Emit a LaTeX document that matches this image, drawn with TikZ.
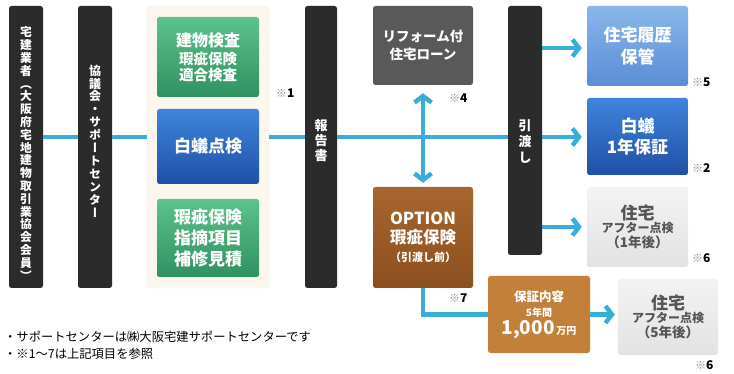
\documentclass[tikz,border=0pt]{standalone}
\usepackage{fontspec}
\setmainfont{Noto Sans CJK JP}
\newfontfamily\jpv{Noto Sans CJK JP}[RawFeature=+vert]
\usetikzlibrary{arrows.meta}
\definecolor{barc}{HTML}{2B2B2B}
\definecolor{linec}{HTML}{38ADD8}
\definecolor{panelc}{HTML}{FBF7EE}
\definecolor{panelb}{HTML}{EFE6D6}
\definecolor{gtop}{HTML}{5EC28C}
\definecolor{gbot}{HTML}{2E9160}
\definecolor{btop}{HTML}{3F85DC}
\definecolor{bbot}{HTML}{1F50A6}
\definecolor{lbtop}{HTML}{8AB6EA}
\definecolor{lbbot}{HTML}{5A8DD6}
\definecolor{dgrey}{HTML}{595959}
\definecolor{brtop}{HTML}{A8662F}
\definecolor{brbot}{HTML}{8C4F1F}
\definecolor{orc}{HTML}{C2803A}
\definecolor{lgtop}{HTML}{F3F3F3}
\definecolor{lgbot}{HTML}{E2E2E2}
\definecolor{lgtext}{HTML}{555555}
\definecolor{notec}{HTML}{8A8A8A}
\newcommand{\fs}[1]{\fontsize{#1}{#1}\selectfont}
\newcommand{\refmark}[1]{{\color{notec}\fs{11}※}{\fs{12}\bfseries #1}}
\tikzset{
  bar/.style={fill=barc, rounded corners=2.5pt, inner sep=0pt, text=white, font=\bfseries},
  vtxt/.style={text=white, align=center, inner sep=0pt},
  box/.style={rounded corners=2.5pt, inner sep=0pt, text=white, align=center, font=\bfseries},
  conn/.style={draw=linec, line width=4.5pt},
  arr/.style={draw=linec, line width=4.5pt, -{Straight Barb[length=6.5pt,width=17pt]}},
  darr/.style={draw=linec, line width=4.5pt, {Straight Barb[length=6.5pt,width=17pt]}-{Straight Barb[length=6.5pt,width=17pt]}},
  note/.style={inner sep=0pt, anchor=west}
}
\begin{document}
\begin{tikzpicture}[x=1pt,y=-1pt]
\useasboundingbox (0,0) rectangle (734,374);
% bars
\node[bar, minimum width=34pt, minimum height=282pt] (b1) at (26,147) {};
\node[vtxt, font={\jpv\bfseries\fontsize{11.8}{12.8}\selectfont}] (t1) at (26,153.5) {宅\\建\\業\\者\\（\\大\\阪\\府\\宅\\地\\建\\物\\取\\引\\業\\協\\会\\会\\員\\）};
\node[bar, minimum width=34pt, minimum height=282pt] (b2) at (95,147) {};
\node[vtxt, font={\jpv\bfseries\fontsize{12}{12.9}\selectfont}] (t2) at (95,141) {協\\議\\会\\・\\サ\\ポ\\ー\\ト\\セ\\ン\\タ\\ー};
% panel
\node[fill=panelc, draw=panelb, rounded corners=3pt, minimum width=122pt, minimum height=282pt, inner sep=0pt] (pan) at (208,147) {};
\node[box, top color=gtop, bottom color=gbot, minimum width=102pt, minimum height=80pt] (g1) at (208,57) {\fs{16}建物検査\\[3pt]\fs{14.5}瑕疵保険\\[1pt]\fs{14.5}適合検査};
\node[box, top color=btop, bottom color=bbot, minimum width=102pt, minimum height=75pt] (bl) at (208,146.5) {\fs{17}白蟻点検};
\node[box, top color=gtop, bottom color=gbot, minimum width=102pt, minimum height=78pt] (g2) at (208,238) {\fs{17}瑕疵保険\\[4pt]\fs{17}指摘項目\\[4pt]\fs{17}補修見積};
\node[note] (n1) at (276,93) {\refmark{1}};
% report bar
\node[bar, minimum width=32pt, minimum height=282pt] (b3) at (321,147) {};
\node[vtxt, font={\bfseries\fontsize{13}{15}\selectfont}] (t3) at (321,140.5) {報\\告\\書};
% handover bar
\node[bar, minimum width=34pt, minimum height=249pt] (hw) at (525,130.5) {};
\node[vtxt, font={\bfseries\fontsize{13}{15.6}\selectfont}] (t4) at (525,141.5) {引\\渡\\し};
% middle boxes
\node[box, fill=dgrey, minimum width=100pt, minimum height=79pt] (rf) at (423,45.5) {\fs{13.5}リフォーム付\\[4pt]\fs{13.5}住宅ローン};
\node[note] (n4) at (449,98) {\refmark{4}};
\node[box, top color=brtop, bottom color=brbot, minimum width=100pt, minimum height=101pt] (op) at (423,237.5) {\fs{16.5}OPTION\\[4pt]\fs{16.5}瑕疵保険\\[6pt]\fs{11}（引渡し前）};
\node[note] (n7) at (449,298) {\refmark{7}};
\node[box, fill=orc, minimum width=102pt, minimum height=77pt] (hs) at (539,314.5) {\fs{12.5}保証内容\\[3pt]\fs{10}5年間\\[2pt]{\fs{19}1,000}\,\fs{10}万円};
% right boxes
\node[box, top color=lbtop, bottom color=lbbot, minimum width=101pt, minimum height=80pt] (rk) at (637.5,46) {\fs{17}住宅履歴\\[4pt]\fs{17}保管};
\node[note] (n5) at (692,82) {\refmark{5}};
\node[box, top color=btop, bottom color=bbot, minimum width=101pt, minimum height=77pt] (sa) at (637.5,136.5) {\fs{17}白蟻\\[4pt]\fs{17}1年保証};
\node[note] (n2) at (692,168) {\refmark{2}};
\node[box, top color=lgtop, bottom color=lgbot, text=lgtext, minimum width=101pt, minimum height=80pt] (a1) at (637.5,227) {\fs{17}住宅\\[1pt]\fs{12}アフター点検\\[1pt]\fs{13.5}（1年後）};
\node[note] (n6a) at (692,258) {\refmark{6}};
\node[box, top color=lgtop, bottom color=lgbot, text=lgtext, minimum width=100pt, minimum height=76pt] (a5) at (668,317) {\fs{17}住宅\\[1pt]\fs{12}アフター点検\\[1pt]\fs{13.5}（5年後）};
\node[note] (n6b) at (695,365) {\refmark{6}};
% connectors
\coordinate (L) at (0,137);
\coordinate (T) at (0,48);
\draw[conn] (b1.east |- L) -- (b2.west |- L);
\draw[conn] (b2.east |- L) -- (pan.west |- L);
\draw[conn] (pan.east |- L) -- (b3.west |- L);
\draw[conn] (b3.east |- L) -- (hw.west |- L);
\draw[darr, shorten <=8pt, shorten >=4pt] (rf.south) -- (op.north);
\draw[arr, shorten >=5pt] (hw.east |- T) -- (rk.west |- T);
\draw[arr, shorten >=5pt] (hw.east |- L) -- (sa.west |- L);
\draw[arr, shorten >=5pt] (hw.east |- a1.west) -- (a1.west);
\draw[conn] (op.south) -- (op.south |- hs.west) -- (hs.west);
\draw[arr, shorten >=3pt] (hs.east) -- (hs.east -| a5.west);
% footnotes
\node[note] (f1) at (4,337) {\fs{12.3}・サポートセンターは㈱大阪宅建サポートセンターです};
\node[note] (f2) at (4,354) {\fs{12.3}・※1〜7は上記項目を参照};
\end{tikzpicture}
\end{document}
